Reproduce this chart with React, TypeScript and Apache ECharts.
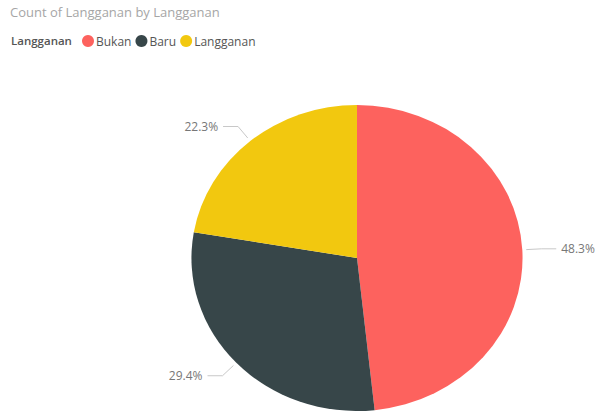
import React, { useEffect, useRef } from "react";
import * as echarts from "echarts";

const chartTitle = "Count of Langganan by Langganan";
const legendTitle = "Langganan";
const categories = ["Bukan", "Baru", "Langganan"];
const percentValues = [48.3, 29.4, 22.3];
const colors = ["#FD625E", "#374649", "#F2C80F"];

const FONT = "'Open Sans', 'Noto Sans', sans-serif";

export default function App() {
  const ref = useRef<HTMLDivElement>(null);
  useEffect(() => {
    if (!ref.current) return;
    const chart = echarts.init(ref.current, null, { renderer: "svg" });
    const total = percentValues.reduce((a, b) => a + b, 0);
    const cx = 357;
    const cy = 258;
    const ry = 153;
    const rx = 165.5;

    const makeRender = (idx: number) => (params: any, api: any) => {
      let before = 0;
      for (let i = 0; i < idx; i++) before += percentValues[i];
      const v = api.value(0);
      const a0 = (before / total) * Math.PI * 2;
      const a1 = ((before + v) / total) * Math.PI * 2;
      const mid = (a0 + a1) / 2;
      const s = Math.sin(mid);
      const c = Math.cos(mid);
      const p0 = [cx + (rx + 4) * s, cy - (ry + 4) * c];
      const p1 = [p0[0] + 15 * s, p0[1] - 15 * c];
      const dir = s >= 0 ? 1 : -1;
      const p2 = [p1[0] + 15 * dir, p1[1]];
      return {
        type: "group",
        children: [
          {
            type: "sector",
            x: cx,
            y: cy,
            scaleX: rx / ry,
            scaleY: 1,
            shape: {
              cx: 0,
              cy: 0,
              r0: 0,
              r: ry,
              startAngle: a0 - Math.PI / 2,
              endAngle: a1 - Math.PI / 2,
              clockwise: true,
            },
            style: { fill: colors[idx] },
          },
          {
            type: "polyline",
            shape: { points: [p0, p1, p2] },
            style: { stroke: "#C8C8C8", lineWidth: 1, fill: null },
          },
          {
            type: "text",
            x: p2[0] + 5 * dir,
            y: p2[1],
            style: {
              text: v.toFixed(1) + "%",
              fill: "#777777",
              font: `12px ${FONT}`,
              align: dir > 0 ? "left" : "right",
              verticalAlign: "middle",
            },
          },
        ],
      };
    };

    chart.setOption({
      animation: false,
      title: [
        {
          text: chartTitle,
          left: 5,
          top: 0,
          textStyle: { color: "#A6A6A6", fontSize: 13, fontWeight: "normal", fontFamily: FONT },
        },
        {
          text: legendTitle,
          left: 6,
          top: 29,
          textStyle: { color: "#555555", fontSize: 11.5, fontWeight: 600, fontFamily: FONT },
        },
      ],
      legend: {
        left: 77,
        top: 30,
        icon: "circle",
        itemWidth: 12,
        itemHeight: 12,
        itemGap: 4,
        selectedMode: false,
        data: categories,
        textStyle: { color: "#555555", fontSize: 12, fontFamily: FONT, padding: [0, 0, 0, -3] },
      },
      series: categories.map((name, i) => ({
        type: "custom",
        name,
        coordinateSystem: "none",
        itemStyle: { color: colors[i] },
        renderItem: makeRender(i),
        data: [[percentValues[i]]],
      })),
    });
    return () => chart.dispose();
  }, []);
  return (
    <div
      ref={ref}
      style={{ position: "fixed", left: 0, top: 0, width: 600, height: 412, background: "#fff" }}
    />
  );
}
